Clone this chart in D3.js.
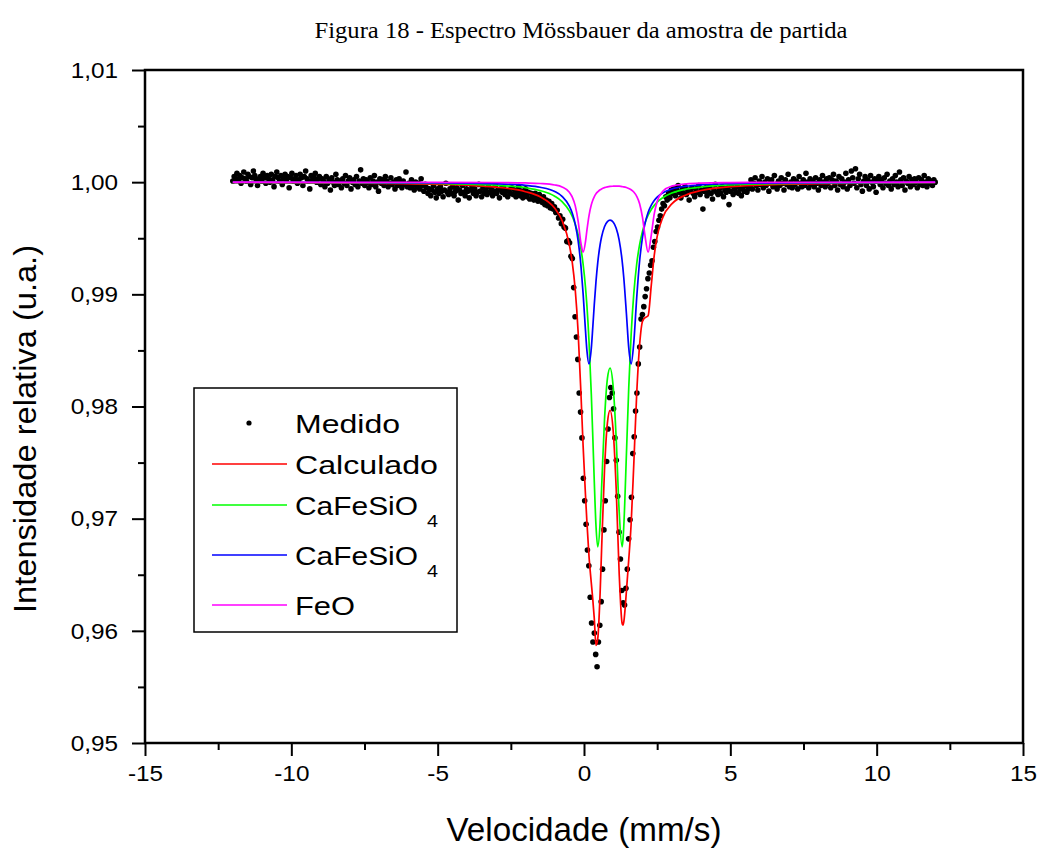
<!DOCTYPE html>
<html><head><meta charset="utf-8">
<script src="https://cdn.jsdelivr.net/npm/d3@7"></script>
<style>body{margin:0;background:#fff;}svg{display:block;}</style>
</head><body>
<svg id="chart" width="1040" height="850"></svg>
<script>
// ---------- data ----------
const titleText = "Figura 18 - Espectro Mössbauer da amostra de partida";
const xTicks = [-15, -10, -5, 0, 5, 10, 15];
const xMinorTicks = [-12.5, -7.5, -2.5, 2.5, 7.5, 12.5];
const yTicks = [0.95, 0.96, 0.97, 0.98, 0.99, 1.00, 1.01];
const yMinorTicks = [0.955, 0.965, 0.975, 0.985, 0.995, 1.005];
const legendNames = ["Medido", "Calculado", "CaFeSiO", "CaFeSiO", "FeO"];

// measured spectrum: 512 channels spanning velMin..velMax
const velMin = -12, velMax = 12;
const medido = [
1.0001,1.0005,1.0003,1.0008,1.0002,1.0006,0.9999,1.0004,1.0009,1.0003,1.0001,1.0007,1.0005,0.9998,1.0004,1.0010,
1.0006,1.0002,0.9997,1.0003,1.0005,1.0001,1.0008,1.0004,0.9999,1.0006,1.0003,1.0000,1.0007,1.0002,0.9996,1.0005,
1.0009,1.0004,1.0001,1.0006,0.9998,1.0003,1.0007,1.0002,1.0005,0.9995,1.0004,1.0008,1.0001,1.0003,1.0006,0.9999,
1.0002,1.0007,1.0004,0.9997,1.0005,1.0010,1.0003,1.0001,0.9994,1.0006,1.0002,1.0004,1.0008,1.0000,1.0003,1.0005,
0.9998,1.0003,1.0001,0.9996,1.0005,0.9999,1.0002,0.9993,1.0004,1.0000,0.9997,1.0007,1.0002,0.9998,1.0001,0.9995,
1.0003,0.9999,1.0006,0.9997,1.0001,1.0004,0.9994,1.0000,1.0002,0.9998,1.0005,0.9996,1.0001,1.0011,0.9999,1.0003,
0.9997,1.0002,1.0000,0.9995,1.0004,0.9998,1.0001,1.0006,0.9996,1.0000,0.9992,1.0003,0.9999,1.0002,0.9997,1.0005,
1.0001,0.9996,0.9999,1.0004,0.9998,1.0000,0.9994,1.0002,0.9997,1.0003,0.9999,0.9995,1.0001,0.9998,1.0009,0.9996,
0.9999,0.9995,1.0002,0.9997,0.9993,1.0000,0.9996,0.9999,0.9994,1.0003,0.9997,0.9992,0.9998,
0.9995,0.9990,0.9994,0.9988,0.9993,0.9997,0.9991,0.9986,0.9994,0.9990,0.9996,0.9992,0.9987,0.9993,0.9999,0.9991,
0.9989,0.9994,0.9990,0.9996,0.9988,0.9992,0.9995,0.9984,0.9993,0.9990,0.9997,0.9991,0.9988,0.9994,0.9992,0.9986,
0.9993,0.9996,0.9990,0.9994,0.9988,0.9991,0.9998,0.9992,0.9987,0.9995,0.9990,0.9993,0.9989,0.9996,0.9991,0.9994,
0.9988,0.9992,0.9997,0.9990,0.9993,0.9986,0.9994,0.9991,0.9995,0.9989,0.9992,0.9987,0.9993,0.9990,
0.9995,0.9989,0.9993,0.9987,0.9991,0.9996,0.9988,0.9992,0.9986,0.9990,0.9994,0.9987,0.9991,0.9985,0.9990,0.9988,
0.9984,0.9990,0.9986,0.9983,0.9989,0.9985,0.9982,0.9987,0.9980,0.9984,0.9979,0.9983,0.9977,0.9981,0.9976,0.9978,0.9973,
0.9975,0.9968,0.9970,0.9963,0.9967,0.9960,0.9959,0.9947,0.9948,0.9946,0.9934,0.9932,
0.9906,0.9880,0.9862,0.9842,0.9812,0.9795,0.9772,0.9736,0.9716,0.9695,0.9672,0.9658,0.9630,0.9607,0.9590,0.9598,
0.9579,0.9568,0.9590,0.9605,0.9626,0.9655,0.9690,0.9716,0.9751,0.9780,0.9808,0.9817,0.9812,0.9798,0.9772,0.9752,
0.9720,0.9688,0.9664,0.9636,0.9625,0.9623,0.9638,0.9655,0.9682,0.9699,0.9719,0.9758,0.9773,0.9796,0.9812,0.9838,
0.9853,0.9878,0.9882,0.9889,0.9898,0.9905,0.9914,0.9919,0.9926,0.9930,0.9942,0.9947,0.9956,0.9960,0.9966,0.9970,
0.9976,0.9981,0.9979,0.9987,0.9984,0.9990,0.9986,0.9993,
0.9990,0.9995,0.9988,0.9993,0.9997,0.9991,0.9986,0.9994,0.9990,0.9996,0.9989,0.9993,0.9984,0.9992,0.9995,0.9990,
0.9987,0.9994,0.9991,0.9997,0.9989,0.9993,0.9976,0.9992,0.9995,0.9988,0.9991,0.9996,0.9990,0.9985,0.9993,0.9998,
0.9991,0.9989,0.9994,0.9990,0.9996,0.9987,0.9993,0.9991,0.9995,0.9980,0.9992,0.9997,0.9989,0.9994,0.9991,0.9996,
0.9990,0.9994,0.9988,0.9995,0.9992,0.9997,0.9991,0.9994,
0.9996,1.0002,0.9994,0.9999,1.0004,0.9997,0.9993,1.0001,0.9998,1.0005,0.9995,1.0000,0.9997,1.0003,0.9992,0.9999,
1.0002,0.9996,1.0006,0.9998,0.9994,1.0001,0.9997,1.0004,0.9999,0.9993,1.0002,0.9998,1.0007,0.9996,1.0000,0.9995,
1.0003,0.9998,1.0001,0.9994,1.0005,0.9999,0.9996,1.0002,0.9997,1.0008,1.0000,0.9995,1.0003,0.9998,1.0001,0.9996,
1.0004,0.9999,0.9993,1.0002,0.9997,1.0006,1.0000,0.9996,1.0003,
0.9999,1.0004,0.9995,1.0002,1.0007,0.9997,1.0001,0.9993,1.0005,0.9998,1.0003,0.9996,1.0000,1.0008,0.9994,1.0002,
0.9997,1.0010,1.0004,0.9999,1.0012,0.9995,1.0003,1.0007,0.9998,0.9992,1.0001,1.0005,0.9997,1.0002,0.9994,1.0006,
1.0000,0.9996,1.0003,0.9991,1.0001,1.0005,0.9998,1.0002,0.9995,1.0004,0.9999,1.0007,0.9997,1.0001,0.9994,1.0003,
0.9998,1.0006,1.0000,0.9996,1.0009,1.0002,0.9997,1.0004,0.9993,1.0001,0.9999,1.0005,0.9996,1.0002,0.9998,1.0003,
1.0000,0.9995,1.0004,0.9998,1.0002,0.9997,1.0006,1.0000,0.9996,1.0003,0.9999,1.0001,0.9997,1.0002,1.0000
];

// fitted curves (velocity grid shared by all four curves)
const curveVel = [-12,-8,-5,-3,-2,-1.5,-1,-0.75,-0.5,-0.4,-0.3,-0.2,-0.1,-0.03,0.05,0.1,0.17,0.25,0.3,0.35,
  0.41,0.47,0.55,0.6,0.7,0.8,0.89,1.0,1.1,1.2,1.3,1.33,1.36,1.45,1.53,1.61,1.7,1.8,1.9,2.0,
  2.08,2.19,2.3,2.4,2.5,2.7,3.0,3.5,4,5,6,8,12];
const calculado = [0.99996,0.99992,0.99981,0.99955,0.99915,0.99869,0.99767,0.99658,0.99440,0.99283,0.99043,0.98660,0.98088,0.97647,0.97214,0.96967,0.96668,0.96425,0.96281,0.96115,
  0.95870,0.95930,0.96334,0.96716,0.97431,0.97854,0.97966,0.97773,0.97266,0.96524,0.96070,0.96050,0.96080,0.96355,0.96639,0.96950,0.97479,0.98108,0.98548,0.98760,
  0.98790,0.98809,0.99084,0.99347,0.99516,0.99691,0.99806,0.99888,0.99926,0.99960,0.99974,0.99987,0.99995];
const caFeSiO4a = [0.99998,0.99995,0.99988,0.99973,0.99950,0.99925,0.99875,0.99827,0.99744,0.99694,0.99625,0.99532,0.99398,0.99268,0.99065,0.98897,0.98588,0.98107,0.97736,0.97342,
  0.96935,0.96749,0.96961,0.97265,0.97878,0.98248,0.98343,0.98167,0.97713,0.97075,0.96749,0.96806,0.96935,0.97579,0.98175,0.98638,0.99002,0.99268,0.99443,0.99563,
  0.99633,0.99705,0.99757,0.99793,0.99822,0.99863,0.99903,0.99939,0.99957,0.99976,0.99985,0.99992,0.99997];
const caFeSiO4b = [0.99999,0.99997,0.99994,0.99986,0.99972,0.99955,0.99917,0.99874,0.99786,0.99722,0.99626,0.99477,0.99240,0.99004,0.98681,0.98498,0.98380,0.98520,0.98705,0.98904,
  0.99115,0.99283,0.99442,0.99511,0.99603,0.99649,0.99661,0.99643,0.99589,0.99486,0.99306,0.99232,0.99146,0.98825,0.98520,0.98380,0.98565,0.98966,0.99297,0.99513,
  0.99626,0.99730,0.99796,0.99837,0.99867,0.99906,0.99939,0.99964,0.99976,0.99987,0.99992,0.99996,0.99998];
const feO = [1.00000,0.99999,0.99999,0.99997,0.99993,0.99988,0.99975,0.99957,0.99910,0.99867,0.99791,0.99652,0.99449,0.99375,0.99468,0.99572,0.99700,0.99799,0.99839,0.99869,
  0.99896,0.99914,0.99932,0.99940,0.99951,0.99958,0.99962,0.99964,0.99965,0.99964,0.99960,0.99959,0.99958,0.99952,0.99943,0.99932,0.99912,0.99874,0.99808,0.99684,
  0.99531,0.99375,0.99531,0.99717,0.99827,0.99921,0.99965,0.99985,0.99992,0.99996,0.99998,0.99999,1.00000];

// ---------- drawing ----------
const plot = {left: 145, right: 1023, top: 70, bottom: 743};
const svg = d3.select("#chart");
const sans = "'Liberation Sans', Arial, Helvetica, sans-serif";

const x = d3.scaleLinear().domain([-15, 15]).range([plot.left, plot.right]);
const y = d3.scaleLinear().domain([0.95, 1.01]).range([plot.bottom, plot.top]);
const channelVel = d3.scaleLinear().domain([0, medido.length - 1]).range([velMin, velMax]);

function stretch(sel, k) {
  sel.each(function () {
    const w = this.getComputedTextLength();
    d3.select(this).attr("textLength", w * k).attr("lengthAdjust", "spacingAndGlyphs");
  });
}

// title
svg.append("text").attr("x", 581).attr("y", 38).attr("text-anchor", "middle")
  .attr("font-family", "'Liberation Serif', 'Times New Roman', serif").attr("font-size", 23)
  .attr("textLength", 533).attr("lengthAdjust", "spacingAndGlyphs")
  .text(titleText);

// axes
const fmtX = d => String(d);
const fmtY = d => d.toFixed(2).replace(".", ",");

const gx = svg.append("g").attr("transform", `translate(0,${plot.bottom})`)
  .call(d3.axisBottom(x).tickValues(xTicks).tickFormat(fmtX).tickSize(13).tickPadding(9));
const gxm = svg.append("g").attr("transform", `translate(0,${plot.bottom})`)
  .call(d3.axisBottom(x).tickValues(xMinorTicks).tickFormat("").tickSize(7));
const gy = svg.append("g").attr("transform", `translate(${plot.left},0)`)
  .call(d3.axisLeft(y).tickValues(yTicks).tickFormat(fmtY).tickSize(13).tickPadding(14));
const gym = svg.append("g").attr("transform", `translate(${plot.left},0)`)
  .call(d3.axisLeft(y).tickValues(yMinorTicks).tickFormat("").tickSize(7));

[gx, gxm, gy, gym].forEach(g => {
  g.select(".domain").remove();
  g.selectAll(".tick line").attr("stroke", "#000").attr("stroke-width", 2);
  g.selectAll(".tick text").attr("font-family", sans).attr("font-size", 22.5).attr("fill", "#000");
});
stretch(gx.selectAll(".tick text"), 1.08);
stretch(gy.selectAll(".tick text"), 1.08);

// frame
svg.append("rect").attr("x", plot.left).attr("y", plot.top)
  .attr("width", plot.right - plot.left).attr("height", plot.bottom - plot.top)
  .attr("fill", "none").attr("stroke", "#000").attr("stroke-width", 2.5);

// axis titles
svg.append("text").attr("x", 584).attr("y", 841).attr("text-anchor", "middle")
  .attr("font-family", sans).attr("font-size", 33)
  .attr("textLength", 275).attr("lengthAdjust", "spacingAndGlyphs")
  .text("Velocidade (mm/s)");
svg.append("text").attr("transform", "translate(36,429) rotate(-90)").attr("text-anchor", "middle")
  .attr("font-family", sans).attr("font-size", 32)
  .attr("textLength", 368).attr("lengthAdjust", "spacingAndGlyphs")
  .text("Intensidade relativa (u.a.)");

// data points
const plotArea = svg.append("g");
plotArea.selectAll("circle.medido").data(medido).join("circle")
  .attr("class", "medido")
  .attr("cx", (d, i) => x(channelVel(i))).attr("cy", d => y(d)).attr("r", 2.8).attr("fill", "#000");

// fitted curves
const series = [
  {name: "Calculado", values: calculado, color: "#ff0000"},
  {name: "CaFeSiO4 (1)", values: caFeSiO4a, color: "#00ff00"},
  {name: "CaFeSiO4 (2)", values: caFeSiO4b, color: "#0000ff"},
  {name: "FeO", values: feO, color: "#ff00ff"}
];
const line = d3.line().x(d => x(d[0])).y(d => y(d[1])).curve(d3.curveMonotoneX);
series.forEach(s => {
  plotArea.append("path").datum(curveVel.map((v, i) => [v, s.values[i]]))
    .attr("d", line).attr("fill", "none").attr("stroke", s.color).attr("stroke-width", 1.7);
});

// legend
const lg = svg.append("g");
lg.append("rect").attr("x", 194).attr("y", 388).attr("width", 263).attr("height", 244)
  .attr("fill", "#fff").attr("stroke", "#000").attr("stroke-width", 1.5);
const legendRows = [
  {label: legendNames[0], sub: null, y: 423, type: "dot", color: "#000", w: 105},
  {label: legendNames[1], sub: null, y: 464, type: "line", color: "#ff0000", w: 143},
  {label: legendNames[2], sub: "4", y: 505, type: "line", color: "#00ff00", w: 123},
  {label: legendNames[3], sub: "4", y: 555, type: "line", color: "#0000ff", w: 123},
  {label: legendNames[4], sub: null, y: 605, type: "line", color: "#ff00ff", w: 60}
];
legendRows.forEach(r => {
  if (r.type === "dot") {
    lg.append("circle").attr("cx", 249).attr("cy", r.y).attr("r", 2.6).attr("fill", r.color);
  } else {
    lg.append("line").attr("x1", 212).attr("x2", 287).attr("y1", r.y).attr("y2", r.y)
      .attr("stroke", r.color).attr("stroke-width", 1.6);
  }
  lg.append("text").attr("x", 295).attr("y", r.y + 9.5)
    .attr("font-family", sans).attr("font-size", 26.5)
    .attr("textLength", r.w).attr("lengthAdjust", "spacingAndGlyphs").text(r.label);
  if (r.sub) {
    lg.append("text").attr("x", 427).attr("y", r.y + 22)
      .attr("font-family", sans).attr("font-size", 16)
      .attr("textLength", 11).attr("lengthAdjust", "spacingAndGlyphs").text(r.sub);
  }
});
</script>
</body></html>
